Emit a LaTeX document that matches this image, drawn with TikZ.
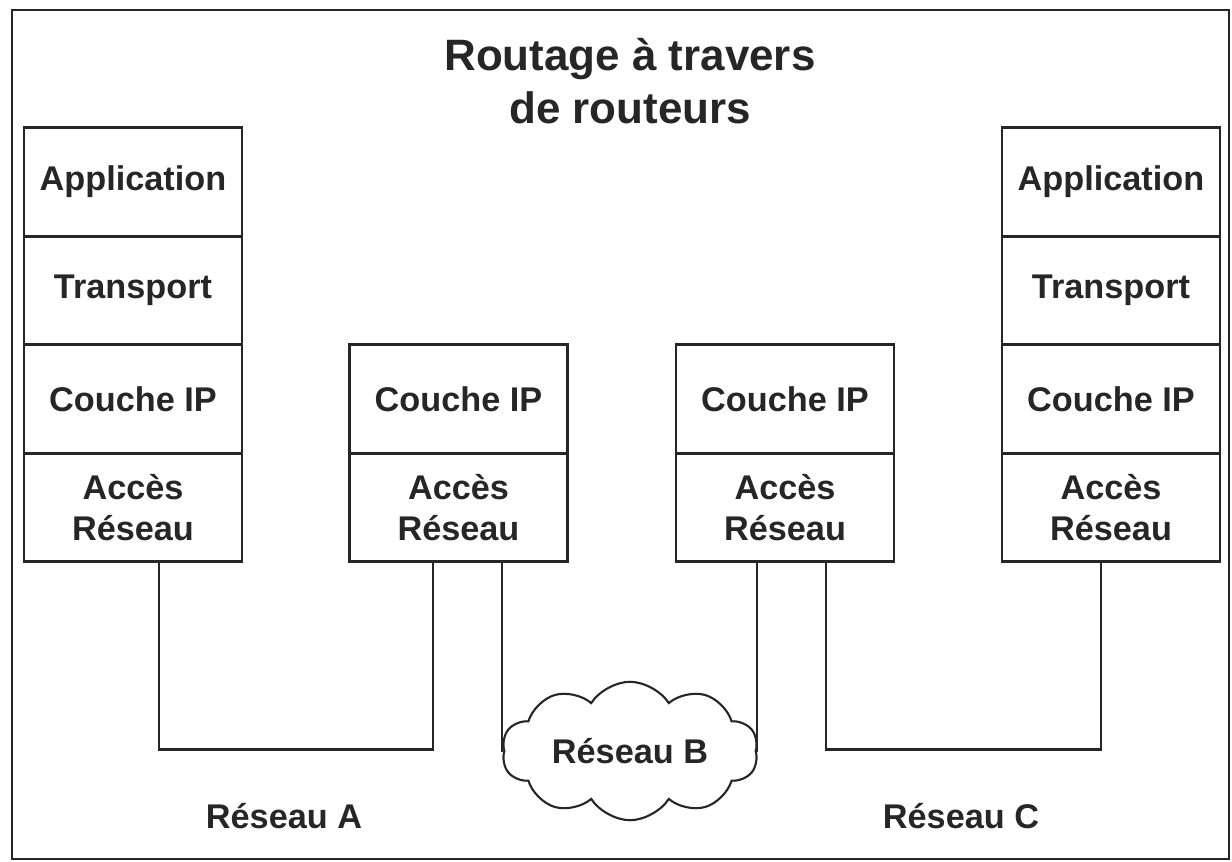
\documentclass[tikz,border=0pt]{standalone}
\usepackage{fontspec}
\setmainfont{Liberation Sans}
\usepackage{tikz}
\usetikzlibrary{positioning,shapes.symbols}

\begin{document}
\begin{tikzpicture}[
  node distance=0pt,
  every node/.style={text=black!85},
  layer/.style={rectangle, draw=black!85, line width=1.6pt, fill=white, minimum width=4.36cm, minimum height=2.17cm, outer sep=0pt, align=center, font=\fontsize{19.5}{23.5}\selectfont\bfseries},
  link/.style={draw=black!85, line width=1.6pt},
  netlabel/.style={font=\fontsize{19.5}{23.5}\selectfont\bfseries}
]
\useasboundingbox (0,0) rectangle (24.64,-17.24);
\draw[link] (0.24,-0.2) rectangle (24.58,-17.18);

% Title
\node[font=\fontsize{25}{30.5}\selectfont\bfseries, align=center] (title) at (12.6,-1.62) {Routage à travers\\de routeurs};

% Host A
\node[layer] (appA) at (2.66,-3.64) {Application};
\node[layer, below=of appA] (trA) {Transport};
\node[layer, below=of trA] (ipA) {Couche IP};
\node[layer, below=of ipA] (accA) {Accès\\Réseau};

% Routers
\node[layer] (ipR1) at (9.17,-7.98) {Couche IP};
\node[layer, below=of ipR1] (accR1) {Accès\\Réseau};
\node[layer] (ipR2) at (15.7,-7.98) {Couche IP};
\node[layer, below=of ipR2] (accR2) {Accès\\Réseau};

% Host B
\node[layer] (appB) at (22.22,-3.64) {Application};
\node[layer, below=of appB] (trB) {Transport};
\node[layer, below=of trB] (ipB) {Couche IP};
\node[layer, below=of ipB] (accB) {Accès\\Réseau};

% Networks
\node[cloud, draw=black!85, line width=1.2pt, fill=white, cloud puffs=10, cloud puff arc=115, shape border rotate=18, aspect=2.3, minimum width=5.12cm, minimum height=2.2cm, netlabel] (netB) at (12.6,-15.02) {Réseau B};
\node[netlabel] (netA) at (5.68,-16.32) {Réseau A};
\node[netlabel] (netC) at (19.22,-16.32) {Réseau C};

% Links
\draw[link] ([xshift=0.52cm]accA.south) -- ++(0,-3.76) -| ([xshift=-0.51cm]accR1.south);
\draw[link] ([xshift=0.87cm]accR1.south) |- (netB.west);
\draw[link] ([xshift=-0.56cm]accR2.south) |- (netB.east);
\draw[link] ([xshift=0.82cm]accR2.south) -- ++(0,-3.76) -| ([xshift=-0.2cm]accB.south);

\end{tikzpicture}
\end{document}
